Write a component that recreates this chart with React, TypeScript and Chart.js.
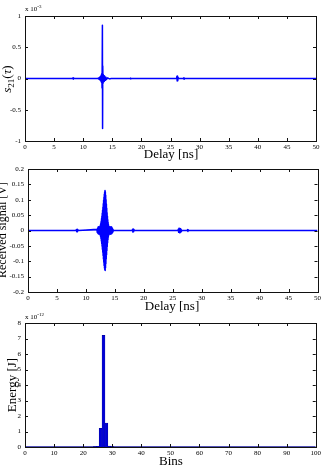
import React, { useEffect, useRef } from 'react';
import { Chart, registerables } from 'chart.js';
Chart.register(...registerables);

// ---------- Panel 1: s21(tau), units of 1e-3 ----------
const s21Delay = [0, 8.2, 8.25, 8.3, 8.35, 8.4, 12.5, 12.6, 12.7, 12.8, 12.9, 12.98, 13.05, 13.1, 13.15, 13.2, 13.24, 13.27, 13.3, 13.33, 13.36, 13.4, 13.45, 13.5, 13.56, 13.62, 13.7, 13.8, 13.9, 14.0, 14.2, 14.5, 14.8, 18.1, 18.15, 18.2, 18.25, 26.05, 26.1, 26.15, 26.2, 26.25, 26.3, 26.35, 27.25, 27.3, 27.35, 27.4, 50];
const s21Value = [0, 0, 0.01, -0.01, 0.01, 0, 0, 0.008, -0.012, 0.018, -0.025, 0.035, -0.045, 0.055, -0.065, 0.08, -0.15, 0.3, 0.85, -0.8, 0.2, -0.08, 0.065, -0.055, 0.05, -0.045, 0.035, -0.028, 0.02, -0.015, 0.01, -0.006, 0, 0, 0.006, -0.006, 0, 0, 0.035, -0.04, 0.04, -0.035, 0.02, 0, 0, 0.012, -0.012, 0, 0];
const s21YTicks = [-1, -0.5, 0, 0.5, 1];
const s21YLabels = ['-1', '-0.5', '0', '0.5', '1'];
const delayTicks = [0, 5, 10, 15, 20, 25, 30, 35, 40, 45, 50];
const delayLabels = ['0', '5', '10', '15', '20', '25', '30', '35', '40', '45', '50'];

// ---------- Panel 2: received signal [V] ----------
const rxDelay = [
  0, 8.3, 8.36, 8.42, 8.48, 8.54, 8.6, 8.66,
  11.9, 11.96, 12.02, 12.08, 12.14, 12.2, 12.26, 12.32,
  12.4, 12.43, 12.46, 12.49, 12.52, 12.55, 12.58, 12.61, 12.64, 12.67, 12.7, 12.73, 12.76, 12.79, 12.82, 12.85, 12.88, 12.91, 12.94, 12.97,
  13.0, 13.03, 13.06, 13.09, 13.12, 13.15, 13.18, 13.21, 13.24, 13.27, 13.3, 13.33, 13.36, 13.39, 13.42, 13.45, 13.48, 13.51, 13.54, 13.57,
  13.6, 13.63, 13.66, 13.69, 13.72, 13.75, 13.78, 13.81, 13.84, 13.87, 13.9, 13.93, 13.96, 13.99, 14.02,
  14.08, 14.14, 14.2, 14.26, 14.32, 14.38, 14.44, 14.5, 14.56, 14.62, 14.68, 14.74, 14.8,
  18.0, 18.06, 18.12, 18.18, 18.24, 18.3, 18.36,
  25.9, 25.96, 26.02, 26.08, 26.14, 26.2, 26.26, 26.32, 26.38, 26.44, 26.5, 26.56,
  27.5, 27.56, 27.62, 27.68, 27.74, 50,
];
const rxValue = [
  0, 0, 0.003, -0.004, 0.004, -0.004, 0.003, 0,
  0.004, -0.006, 0.008, -0.01, 0.012, -0.012, 0.012, -0.012,
  0.012, -0.013, 0.015, -0.017, 0.019, -0.021, 0.024, -0.027, 0.03, -0.034, 0.038, -0.042, 0.046, -0.051, 0.056, -0.061, 0.066, -0.071, 0.076, -0.081,
  0.087, -0.093, 0.098, -0.103, 0.108, -0.114, 0.118, -0.122, 0.125, -0.128, 0.13, -0.13, 0.126, -0.121, 0.115, -0.108, 0.1, -0.093, 0.086, -0.079,
  0.072, -0.065, 0.058, -0.052, 0.046, -0.04, 0.035, -0.03, 0.026, -0.022, 0.019, -0.016, 0.014, -0.013, 0.012,
  -0.012, 0.012, -0.012, 0.012, -0.012, 0.012, 0.011, -0.01, 0.008, -0.006, 0.004, -0.002, 0,
  0, 0.004, -0.005, 0.005, -0.004, 0.003, 0,
  0, 0.004, -0.006, 0.007, -0.007, 0.007, -0.007, 0.006, -0.005, 0.004, -0.003, 0,
  0, 0.003, -0.003, 0.002, 0, 0,
];
const rxYTicks = [-0.2, -0.15, -0.1, -0.05, 0, 0.05, 0.1, 0.15, 0.2];
const rxYLabels = ['-0.2', '-0.15', '-0.1', '-0.05', '0', '0.05', '0.1', '0.15', '0.2'];

// ---------- Panel 3: energy per bin, units of 1e-12 J ----------
const energyBins = [24, 25, 26, 27, 28, 29, 30];
const energyValue = [0.02, 0.05, 1.2, 7.2, 1.55, 0.06, 0.02];
const binTicks = [0, 10, 20, 30, 40, 50, 60, 70, 80, 90, 100];
const binLabels = ['0', '10', '20', '30', '40', '50', '60', '70', '80', '90', '100'];
const energyYTicks = [0, 1, 2, 3, 4, 5, 6, 7, 8];
const energyYLabels = ['0', '1', '2', '3', '4', '5', '6', '7', '8'];

const SERIF = '"Liberation Serif", "DejaVu Serif", "Times New Roman", serif';
const BLUE = '#0000ff';

const boxTicks = {
  id: 'boxTicks',
  afterDraw(chart: any) {
    const { ctx, chartArea } = chart;
    const { left, right, top, bottom } = chartArea;
    const xs = chart.scales.x;
    const ys = chart.scales.y;
    const L = 3;
    ctx.save();
    ctx.strokeStyle = '#111';
    ctx.lineWidth = 1;
    ctx.beginPath();
    xs.ticks.forEach((t: any) => {
      const p = Math.round(xs.getPixelForValue(t.value)) + 0.5;
      ctx.moveTo(p, bottom);
      ctx.lineTo(p, bottom - L);
      ctx.moveTo(p, top);
      ctx.lineTo(p, top + L);
    });
    ys.ticks.forEach((t: any) => {
      const p = Math.round(ys.getPixelForValue(t.value)) + 0.5;
      ctx.moveTo(left, p);
      ctx.lineTo(left + L, p);
      ctx.moveTo(right, p);
      ctx.lineTo(right - L, p);
    });
    ctx.stroke();
    ctx.strokeRect(Math.round(left) + 0.5, Math.round(top) + 0.5, Math.round(right - left), Math.round(bottom - top));
    ctx.restore();
  },
};

function axis(min: number, max: number, values: number[], labels: string[], fit: (s: any) => void, padding: number) {
  return {
    type: 'linear',
    min,
    max,
    offset: false,
    afterBuildTicks: (s: any) => {
      s.ticks = values.map((v) => ({ value: v }));
    },
    afterFit: fit,
    grid: { display: false, drawTicks: false },
    border: { display: false },
    ticks: {
      autoSkip: false,
      maxRotation: 0,
      padding,
      color: '#000',
      font: { family: SERIF, size: 7 },
      callback: (v: any) => {
        const i = values.findIndex((x) => Math.abs(x - v) < 1e-9);
        return i >= 0 ? labels[i] : '';
      },
    },
  };
}

function pts(xs: number[], ys: number[]) {
  return xs.map((x, i) => ({ x, y: ys[i] }));
}

type PanelProps = { top: number; height: number; config: any };

function Panel({ top, height, config }: PanelProps) {
  const ref = useRef<HTMLCanvasElement>(null);
  useEffect(() => {
    const chart = new Chart(ref.current as HTMLCanvasElement, config);
    return () => chart.destroy();
  }, []);
  return (
    <canvas
      ref={ref}
      width={323}
      height={height}
      style={{ position: 'absolute', left: 0, top, width: 323, height }}
    />
  );
}

function baseOptions(pad: any, x: any, y: any) {
  return {
    animation: false,
    responsive: false,
    maintainAspectRatio: false,
    devicePixelRatio: 1,
    layout: { padding: pad },
    plugins: { legend: { display: false }, tooltip: { enabled: false } },
    scales: { x, y },
  };
}

function signalDataset(xs: number[], ys: number[]) {
  return {
    data: pts(xs, ys),
    borderColor: BLUE,
    backgroundColor: BLUE,
    fill: 'origin',
    borderWidth: 1.5,
    borderJoinStyle: 'round',
    pointRadius: 0,
    tension: 0.001,
  };
}

const config1 = {
  type: 'line',
  data: { datasets: [signalDataset(s21Delay, s21Value)] },
  options: baseOptions(
    { top: 16, left: 0, right: 7, bottom: 0 },
    axis(0, 50, delayTicks, delayLabels, (s: any) => { s.height = 19; }, 2),
    axis(-1, 1, s21YTicks, s21YLabels, (s: any) => { s.width = 25; }, 4)
  ),
  plugins: [boxTicks],
};

const config2 = {
  type: 'line',
  data: { datasets: [signalDataset(rxDelay, rxValue)] },
  options: baseOptions(
    { top: 9, left: 0, right: 5, bottom: 0 },
    axis(0, 50, delayTicks, delayLabels, (s: any) => { s.height = 18; }, 2),
    axis(-0.2, 0.2, rxYTicks, rxYLabels, (s: any) => { s.width = 28; }, 4)
  ),
  plugins: [boxTicks],
};

const config3 = {
  type: 'bar',
  data: {
    datasets: [
      {
        type: 'bar',
        data: pts(energyBins, energyValue),
        backgroundColor: '#0000d8',
        borderColor: '#00008a',
        borderWidth: 0.5,
        barPercentage: 1,
        categoryPercentage: 1,
      },
      {
        type: 'line',
        data: [{ x: 0, y: 0 }, { x: 100, y: 0 }],
        borderColor: '#1a1aa0',
        borderWidth: 1.5,
        pointRadius: 0,
      },
    ],
  },
  options: baseOptions(
    { top: 13, left: 0, right: 7, bottom: 0 },
    axis(0, 100, binTicks, binLabels, (s: any) => { s.height = 23; }, 2),
    axis(0, 8, energyYTicks, energyYLabels, (s: any) => { s.width = 25; }, 4)
  ),
  plugins: [boxTicks],
};

function Label({ x, y, size, rotate, children, italic }: any) {
  return (
    <div
      style={{
        position: 'absolute',
        left: x,
        top: y,
        transform: `translate(-50%, -50%)${rotate ? ' rotate(-90deg)' : ''}`,
        whiteSpace: 'nowrap',
        fontSize: size,
        lineHeight: 1,
        fontStyle: italic ? 'italic' : 'normal',
        color: '#000',
      }}
    >
      {children}
    </div>
  );
}

function Exp({ x, y, power }: any) {
  return (
    <div style={{ position: 'absolute', left: x, top: y, fontSize: 7, lineHeight: 1, whiteSpace: 'nowrap', color: '#000' }}>
      x 10<sup style={{ fontSize: 5, verticalAlign: 'top', position: 'relative', top: -2 }}>{power}</sup>
    </div>
  );
}

export default function App() {
  return (
    <div
      style={{
        position: 'fixed',
        left: 0,
        top: 0,
        width: 323,
        height: 470,
        background: '#fff',
        overflow: 'hidden',
        fontFamily: SERIF,
      }}
    >
      <Panel top={0} height={160} config={config1} />
      <Panel top={160} height={150} config={config2} />
      <Panel top={310} height={160} config={config3} />
      <Exp x={25} y={6} power="-3" />
      <Exp x={25} y={314} power="-12" />
      <Label x={8} y={79} size={13} rotate>
        <i>s</i>
        <sub style={{ fontSize: 9 }}>21</sub>
        (<i>τ</i>)
      </Label>
      <Label x={171} y={153} size={13}>Delay [ns]</Label>
      <Label x={2} y={230} size={12} rotate>Received signal [V]</Label>
      <Label x={172} y={305} size={13}>Delay [ns]</Label>
      <Label x={11} y={385} size={13} rotate>Energy [J]</Label>
      <Label x={171} y={460} size={13}>Bins</Label>
    </div>
  );
}
